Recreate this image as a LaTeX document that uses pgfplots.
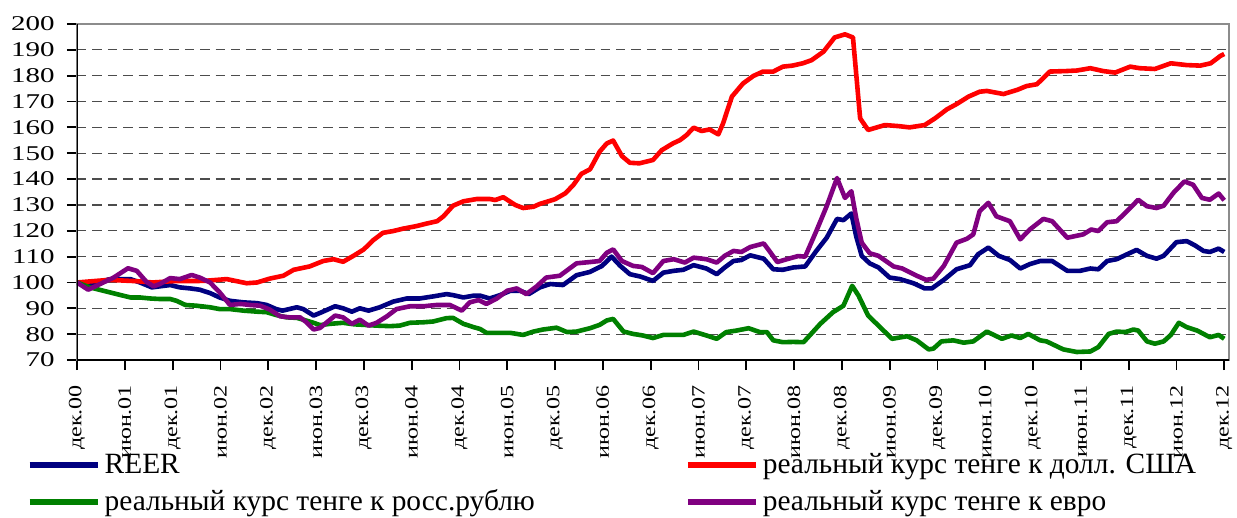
\documentclass[border=0pt]{standalone}
\usepackage{fontspec}
\setmainfont{Liberation Serif}
\usepackage{graphicx}
\usepackage{pgfplots}
\pgfplotsset{compat=1.18}
\definecolor{cREER}{RGB}{0,0,128}
\definecolor{cUSD}{RGB}{255,0,0}
\definecolor{cRUB}{RGB}{0,128,0}
\definecolor{cEUR}{RGB}{128,0,128}
\newcommand{\xl}[1]{\scalebox{1.28}[1]{#1}}
\begin{document}
\begin{tikzpicture}
\path (-38.5pt,-78.5pt) rectangle (580pt,180pt);
\begin{axis}[
  at={(0pt,0pt)}, anchor=south west,
  scale only axis, width=576pt, height=168pt,
  xmin=0, xmax=144.6, ymin=70, ymax=200,
  axis line style={draw=black!45, line width=0.6pt},
  xtick={0,6,...,144},
  xticklabels={\xl{дек.00},\xl{июн.01},\xl{дек.01},\xl{июн.02},\xl{дек.02},\xl{июн.03},\xl{дек.03},\xl{июн.04},\xl{дек.04},\xl{июн.05},\xl{дек.05},\xl{июн.06},\xl{дек.06},\xl{июн.07},\xl{дек.07},\xl{июн.08},\xl{дек.08},\xl{июн.09},\xl{дек.09},\xl{июн.10},\xl{дек.10},\xl{июн.11},\xl{дек.11},\xl{июн.12},\xl{дек.12}},
  xticklabel style={rotate=90, anchor=east, font=\fontsize{9.4}{10}\selectfont, inner sep=1pt},
  xticklabel shift=6.3pt,
  ytick={70,80,...,200},
  yticklabel={\scalebox{1.38}[1]{\pgfmathprintnumber[assume math mode=true]{\tick}}},
  yticklabel style={font=\fontsize{10.5}{11}\selectfont, anchor=east, inner sep=1pt},
  yticklabel shift=5pt,
  tick align=outside, xtick pos=bottom, ytick pos=left,
  major tick length=5pt,
  tick style={black, line width=0.9pt},
  ymajorgrids,
  major grid style={dash pattern=on 4.7pt off 3pt, color=black!70, line width=0.6pt},
  legend columns=2,
  legend cell align=left,
  legend style={draw=none, fill=none, at={(axis description cs:-0.044,-0.265)}, anchor=north west,
    font=\fontsize{14.7}{16}\selectfont, inner sep=0pt, row sep=2.5pt,
    /tikz/every even column/.append style={column sep=73pt}},
  legend image code/.code={\draw[#1, line width=3pt] (0pt,0pt) -- (34pt,0pt);},
  every axis plot/.append style={line width=2.3pt, line join=round},
]
\addplot[cREER] coordinates {
(0,100) (1.6,99) (4,101.2) (6.7,101.3) (7.9,100) (9.4,98.1) (10.4,98.5) (11.7,99) (12.9,98.1) (14.2,97.7) (15.4,97.2) (16.7,95.9) (17.9,94.2) (19.2,92.9) (20.9,92.3) (22.6,92) (23.8,91.3) (25,89.7) (25.8,89.1) (27.6,90.4) (28.4,89.7) (29.7,87.2) (30.5,88.2) (32.4,90.8) (33.4,90) (34.5,88.7) (35.5,90) (36.6,89.1) (38,90.4) (39.7,92.6) (41.4,93.8) (43,93.8) (44.7,94.6) (46.4,95.5) (47.2,95.1) (48.5,94.2) (49.8,94.9) (50.6,94.9) (51.8,93.8) (53.1,95.1) (54.4,96.8) (55.6,96.8) (56.7,95.5) (58.1,98.1) (59.4,99.4) (61,99) (62.7,102.8) (64.4,104.1) (65.9,106.4) (67.1,110) (68.2,106.4) (69.4,103.2) (70.7,102.3) (72.3,100.6) (73.6,103.8) (74.9,104.5) (76.1,104.9) (77.4,106.7) (79,105.4) (80.3,103.2) (81.3,105.8) (82.4,108.3) (83.4,108.7) (84.5,110.5) (86.2,109.2) (87.4,105.1) (88.6,104.9) (89.9,105.8) (91.4,106.2) (92.8,112.2) (94.1,117.3) (95.4,124.6) (96.2,124.1) (97.2,126.7) (97.8,117.9) (98.5,110.3) (99.5,107.4) (100.6,105.8) (102,101.9) (103.3,101.3) (105,99.7) (106.4,97.7) (107.3,97.7) (108.8,101) (110.4,105.1) (112.1,106.7) (113.1,110.9) (114.4,113.5) (115.7,110.3) (117.1,108.7) (118.4,105.4) (119.6,107.1) (120.9,108.3) (122.4,108.3) (124.3,104.5) (125.9,104.5) (127.2,105.4) (128.2,105.1) (129.3,108.3) (130.5,109) (131.8,110.9) (133,112.6) (134.3,110.3) (135.5,109.2) (136.4,110.3) (138,115.6) (139.3,116) (140.3,114.4) (141.4,112.2) (142.2,111.8) (143.3,113.1) (144,111.8)
};
\addlegendentry{REER}
\addplot[cUSD] coordinates {
(0,100) (4,101) (7.5,100.5) (9.5,100) (12,100.5) (15.9,100.6) (18.8,101.3) (21.3,99.7) (22.6,100) (24.2,101.5) (25.9,102.6) (27.2,104.9) (29.2,106.2) (30.9,108.3) (32.2,109) (33.4,108) (34.7,110.3) (36,112.8) (37.2,116.4) (38.4,119.2) (39.7,119.9) (40.9,120.8) (42.6,121.8) (43.9,122.8) (45.2,123.7) (46,125.6) (47.2,129.7) (48.5,131.4) (50.2,132.3) (51.8,132.3) (52.5,131.9) (53.5,133) (55,130) (56,128.8) (57.3,129.3) (58.1,130.4) (60,132.2) (61.3,134.5) (62.3,137.7) (63.3,142) (64.4,143.8) (65.6,150.6) (66.5,153.8) (67.3,154.9) (68.4,148.9) (69.4,146.3) (70.6,146.1) (72.3,147.4) (73.4,151.2) (74.8,153.8) (75.7,155.1) (76.5,157) (77.4,159.9) (78.4,158.6) (79.4,159.2) (80.5,157.3) (81.1,161.6) (82.2,171.9) (83.6,177) (84.9,179.9) (86.1,181.6) (87.4,181.6) (88.6,183.5) (89.8,183.9) (91.1,184.8) (92.2,186) (93.7,189.3) (95.1,194.8) (96.4,196) (97.4,194.8) (98.3,163.5) (99.3,159) (101.4,160.9) (103.1,160.5) (104.5,160) (106.4,160.9) (107.7,163.5) (109.2,167) (110.4,169) (111.9,171.9) (113.3,173.8) (114.2,174.1) (116.3,172.9) (118,174.5) (119.2,176) (120.5,176.7) (122.1,181.6) (124.2,181.8) (125.5,182) (127.2,182.9) (128.8,181.8) (130.3,181.2) (132.2,183.5) (133.4,182.9) (135.3,182.6) (137.3,184.8) (139.3,184.1) (141,183.9) (142.3,184.8) (143.5,187.6) (144,188.4)
};
\addlegendentry{реальный курс тенге к долл. США}
\addplot[cRUB] coordinates {
(0,100) (1.6,98.1) (3.3,96.8) (5,95.5) (6.7,94.2) (7.9,94.2) (9.2,93.8) (10.4,93.6) (11.7,93.6) (12.5,92.9) (13.6,91.3) (15,91) (16.7,90.4) (17.9,89.7) (19.2,89.7) (20.9,89.1) (22.6,88.7) (23.8,88.5) (25,87.4) (26.3,86.5) (27.6,86.3) (28.4,85.6) (29.7,84.4) (30.5,83.5) (31.8,84) (33.4,84.4) (34.8,83.8) (36,83.6) (37.6,83.3) (39.3,83.1) (40.5,83.3) (41.8,84.4) (43.5,84.6) (44.7,84.9) (46.4,86.2) (47.2,86.3) (48.5,84) (49.8,82.7) (50.6,82) (51.4,80.5) (53.1,80.5) (54.4,80.5) (56,79.7) (57.3,81) (58.5,81.8) (60.2,82.5) (61.5,80.8) (62.7,81) (64.4,82.3) (65.6,83.6) (66.5,85.3) (67.3,85.9) (68.6,81) (69.8,80.1) (71,79.5) (72.3,78.5) (73.6,79.7) (74.9,79.7) (76.1,79.7) (77.4,81) (79,79.5) (80.3,78.2) (81.5,80.8) (82.8,81.4) (84.3,82.3) (85.7,80.8) (86.6,80.8) (87.4,77.6) (88.6,76.9) (89.9,77) (91.2,76.9) (93.3,84) (94.9,88.5) (96.2,91) (97.3,98.7) (98.1,94.9) (99.3,87.2) (100.6,83.3) (102.3,78.2) (104.2,79.2) (105.4,77.6) (106.9,74.1) (107.5,74.4) (108.5,77.2) (110,77.6) (111.3,76.7) (112.5,77.2) (114.2,81) (116.1,78.2) (117.3,79.5) (118.4,78.5) (119.4,80.1) (120.9,77.6) (121.7,77.2) (123.8,74.1) (125.5,73.1) (127.2,73.3) (128.2,75) (129.5,80.1) (130.5,81) (131.6,80.8) (132.6,81.8) (133.2,81.4) (134.3,77.2) (135.3,76.3) (136.4,77.2) (137.3,79.7) (138.3,84.4) (139.3,82.7) (140.6,81.4) (142.2,78.8) (143.3,79.7) (144,78.2)
};
\addlegendentry{реальный курс тенге к росс.рублю}
\addplot[cEUR] coordinates {
(0,100) (1.4,97.2) (2.9,99.4) (4.6,101.9) (6.4,105.5) (7.5,104.5) (8.7,100.3) (9.6,98.5) (10.4,99.4) (11.7,101.7) (12.9,101.3) (14.4,102.9) (15.4,101.9) (16.7,100) (17.9,96.2) (19.2,91.3) (20.5,91.7) (21.7,91.3) (23,91) (24.2,89.5) (25.5,86.9) (26.7,86.5) (28,86.5) (28.8,84.6) (29.7,81.8) (30.5,82.4) (32.4,87.2) (33.4,86.5) (34.5,84) (35.5,85.6) (36.6,83.3) (37.6,84.4) (38.9,86.9) (40.1,89.7) (41.8,90.8) (43.5,90.8) (45.2,91.3) (46.8,91.3) (48.3,89.1) (49.3,92.3) (50.4,93.2) (51.4,91.7) (52.7,93.8) (54,96.8) (55.2,97.7) (56.4,95.5) (57.7,98.5) (58.9,101.9) (60.6,102.6) (62.7,107.4) (64.4,107.9) (65.6,108.3) (66.5,111.5) (67.3,112.8) (68.4,108.3) (69.8,106.4) (70.9,106) (72.3,103.6) (73.6,108.3) (74.9,109) (76.3,107.7) (77.4,109.6) (79,109) (80.3,107.7) (81.3,110.3) (82.4,112.2) (83.4,111.8) (84.5,113.7) (86.2,115.1) (87,111.8) (87.9,107.9) (89.1,109) (90.5,110.2) (91.4,110) (92.8,119.9) (94.1,129.5) (95.4,140.4) (96.4,132.7) (97.2,135.3) (97.8,125) (98.5,115.4) (99.5,111.3) (100.6,110.3) (102.5,106.2) (103.6,105.4) (105.4,102.6) (106.6,101) (107.5,101.5) (108.8,106.4) (110.4,115.4) (111.7,116.9) (112.5,118.6) (113.3,127.6) (114.4,130.8) (115.4,125.6) (117.1,123.7) (118.4,116.7) (119.6,120.5) (121.3,124.6) (122.4,123.7) (124.3,117.3) (126.3,118.6) (127.3,120.5) (128.2,119.9) (129.3,123.3) (130.5,123.7) (131.8,127.6) (133.2,132) (134.3,129.5) (135.5,128.8) (136.4,129.7) (137.6,134.6) (139,139.1) (140.1,137.8) (141.2,132.7) (142.2,132) (143.3,134.4) (144,131.8)
};
\addlegendentry{реальный курс тенге к евро}
\draw[black!45, line width=0.8pt] (rel axis cs:0,1) -- (rel axis cs:1,1) -- (rel axis cs:1,0);
\draw[black, line width=1.2pt] (rel axis cs:0,1) -- (rel axis cs:0,0) -- (rel axis cs:1,0);
\end{axis}
\end{tikzpicture}
\end{document}
